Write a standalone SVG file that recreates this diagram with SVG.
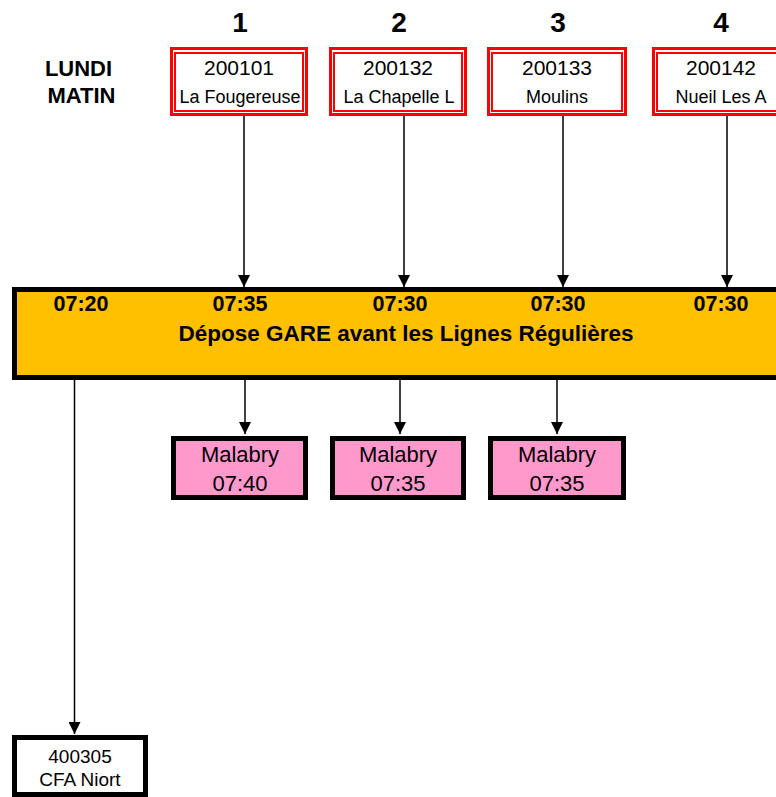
<svg xmlns="http://www.w3.org/2000/svg" width="776" height="797" viewBox="0 0 776 797">
<defs>
<marker id="arr" viewBox="0 0 12 12" refX="12" refY="6" markerWidth="12" markerHeight="12" markerUnits="userSpaceOnUse" orient="auto">
<path d="M0,0 L12,6 L0,12 Z" fill="#000"/>
</marker>
<style>
text{font-family:"Liberation Sans",Arial,sans-serif;fill:#000;text-anchor:middle}
.b{font-weight:bold}
.outer{fill:#fff;stroke:#ff0000;stroke-width:3}
.inner{fill:none;stroke:#ff0000;stroke-width:2}
.code{font-size:21px}
.name{font-size:18px}
.pink{fill:#ff99cc;stroke:#000;stroke-width:5}
.white{fill:#fff;stroke:#000;stroke-width:5}
.conn{stroke:#000;stroke-width:1.5;fill:none;marker-end:url(#arr)}
</style>
</defs>
<rect width="776" height="797" fill="#fff"/>
<g id="header">
<text class="b" x="78.5" y="76" font-size="22">LUNDI</text>
<text class="b" x="81.5" y="103" font-size="22">MATIN</text>
<text class="b" x="240" y="32" font-size="28">1</text>
<text class="b" x="399" y="32" font-size="28">2</text>
<text class="b" x="558" y="32" font-size="28">3</text>
<text class="b" x="721" y="32" font-size="28">4</text>
</g>
<g id="connectors">
<line class="conn" x1="244" y1="115" x2="244" y2="287"/>
<line class="conn" x1="404" y1="115" x2="404" y2="287"/>
<line class="conn" x1="563" y1="115" x2="563" y2="287"/>
<line class="conn" x1="727" y1="115" x2="727" y2="287"/>
<line class="conn" x1="245" y1="380" x2="245" y2="434"/>
<line class="conn" x1="400" y1="380" x2="400" y2="434"/>
<line class="conn" x1="557" y1="380" x2="557" y2="434"/>
<line class="conn" x1="74.5" y1="380" x2="74.5" y2="734"/>
</g>
<g id="stop1">
<rect class="outer" x="171.5" y="48.5" width="135" height="66"/>
<rect class="inner" x="175" y="53" width="128" height="58"/>
<text class="code" x="239" y="75">200101</text>
<text class="name" x="240" y="103">La Fougereuse</text>
</g>
<g id="stop2">
<rect class="outer" x="330.5" y="48.5" width="135" height="66"/>
<rect class="inner" x="334" y="53" width="128" height="58"/>
<text class="code" x="398" y="75">200132</text>
<text class="name" x="399" y="103">La Chapelle L</text>
</g>
<g id="stop3">
<rect class="outer" x="488.5" y="48.5" width="137" height="66"/>
<rect class="inner" x="492" y="53" width="130" height="58"/>
<text class="code" x="557" y="75">200133</text>
<text class="name" x="557" y="103">Moulins</text>
</g>
<g id="stop4">
<rect class="outer" x="653.5" y="48.5" width="135" height="66"/>
<rect class="inner" x="657" y="53" width="128" height="58"/>
<text class="code" x="721" y="75">200142</text>
<text class="name" x="721" y="103">Nueil Les A</text>
</g>
<g id="gare">
<rect x="14.5" y="289.5" width="800" height="88" fill="#ffc000" stroke="#000" stroke-width="5"/>
<text class="b" x="81" y="311" font-size="21.5">07:20</text>
<text class="b" x="240" y="311" font-size="21.5">07:35</text>
<text class="b" x="400" y="311" font-size="21.5">07:30</text>
<text class="b" x="558" y="311" font-size="21.5">07:30</text>
<text class="b" x="721" y="311" font-size="21.5">07:30</text>
<text class="b" x="406" y="341" font-size="22.5">Dépose GARE avant les Lignes Régulières</text>
</g>
<g id="malabry1">
<rect class="pink" x="173.5" y="438.5" width="132" height="59"/>
<text x="240" y="462" font-size="22">Malabry</text>
<text x="240" y="491" font-size="22">07:40</text>
</g>
<g id="malabry2">
<rect class="pink" x="332.5" y="438.5" width="131" height="59"/>
<text x="398" y="462" font-size="22">Malabry</text>
<text x="398" y="491" font-size="22">07:35</text>
</g>
<g id="malabry3">
<rect class="pink" x="490.5" y="438.5" width="133" height="59"/>
<text x="557" y="462" font-size="22">Malabry</text>
<text x="557" y="491" font-size="22">07:35</text>
</g>
<g id="cfa">
<rect class="white" x="14.5" y="737.5" width="131" height="57"/>
<text x="80" y="763" font-size="19">400305</text>
<text x="80" y="786" font-size="19">CFA Niort</text>
</g>
</svg>
